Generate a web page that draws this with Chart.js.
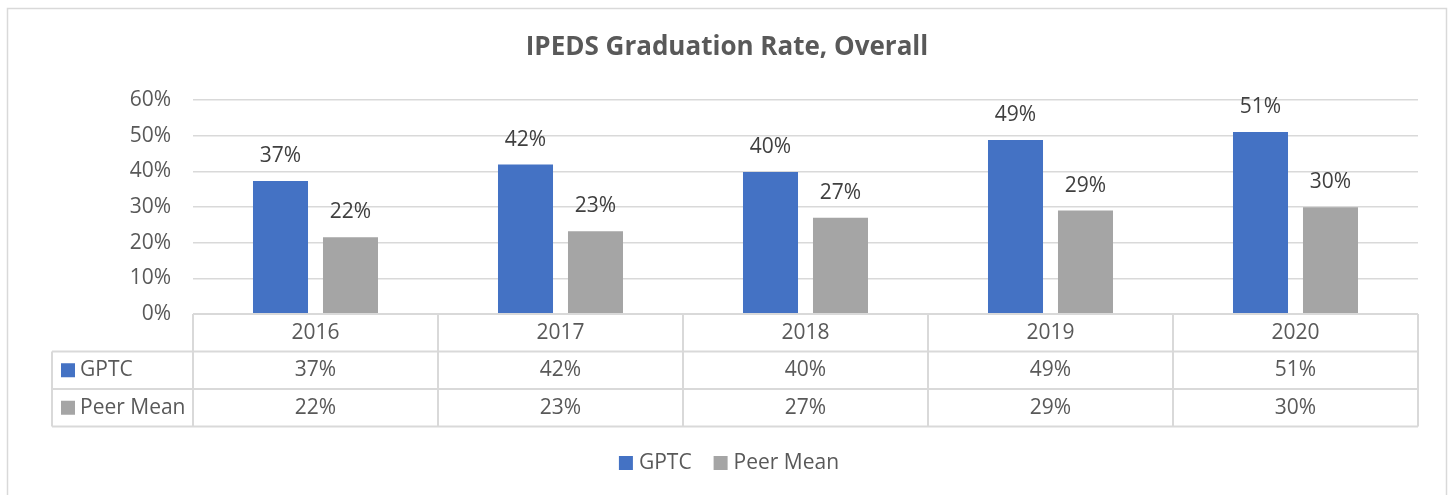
<!DOCTYPE html>
<html>
<head>
<meta charset="utf-8">
<script src="https://cdn.jsdelivr.net/npm/chart.js@4.4.1/dist/chart.umd.min.js"></script>
<style>
html,body{margin:0;padding:0;background:#fff;}
#wrap{width:1450px;height:495px;position:relative;}
</style>
</head>
<body>
<div id="wrap"><canvas id="c" width="1450" height="495"></canvas></div>
<script>
const categories = ['2016', '2017', '2018', '2019', '2020'];
const gptc = [37.3, 41.9, 39.8, 48.8, 51.0];
const peerMean = [21.5, 23.2, 27.0, 29.0, 29.9];
const seriesNames = ['GPTC', 'Peer Mean'];
const yTicks = [0, 10, 20, 30, 40, 50, 60];
const chartTitle = 'IPEDS Graduation Rate, Overall';

const FONT = '"Open Sans", "Noto Sans", sans-serif';
const TXT = '#595959';
const LINE = '#d9d9d9';
const colors = ['#4472C4', '#A5A5A5'];
const fmt = v => Math.round(v) + '%';
const FS = 21;

const excelPlugin = {
  id: 'excel',
  beforeDraw(chart) {
    const ctx = chart.ctx;
    ctx.save();
    ctx.fillStyle = '#fff';
    ctx.fillRect(0, 0, chart.width, chart.height);
    ctx.strokeStyle = LINE;
    ctx.lineWidth = 1.5;
    ctx.strokeRect(7.5, 8.5, 1439, 500);
    // title
    ctx.fillStyle = TXT;
    ctx.font = 'bold 26px ' + FONT;
    ctx.textAlign = 'center';
    ctx.textBaseline = 'middle';
    ctx.fillText(chartTitle, 727, 48);
    ctx.restore();
  },
  afterDatasetsDraw(chart) {
    const ctx = chart.ctx;
    const x = chart.scales.x;
    const area = chart.chartArea;
    ctx.save();
    // data labels
    ctx.font = FS + 'px ' + FONT;
    ctx.fillStyle = '#404040';
    ctx.textAlign = 'center';
    ctx.textBaseline = 'middle';
    chart.data.datasets.forEach((ds, di) => {
      chart.getDatasetMeta(di).data.forEach((bar, i) => {
        ctx.fillText(fmt(ds.data[i]), bar.x, bar.y - 25);
      });
    });
    // table
    const rowH = 37.5;
    const top = area.bottom;
    const left = 52;
    const n = categories.length;
    const colW = (area.right - area.left) / n;
    ctx.strokeStyle = LINE;
    ctx.lineWidth = 2;
    ctx.beginPath();
    ctx.moveTo(area.left, top); ctx.lineTo(area.right, top);
    ctx.moveTo(left, top + rowH); ctx.lineTo(area.right, top + rowH);
    ctx.moveTo(left, top + 2 * rowH); ctx.lineTo(area.right, top + 2 * rowH);
    ctx.moveTo(left, top + 3 * rowH); ctx.lineTo(area.right, top + 3 * rowH);
    ctx.moveTo(left, top + rowH); ctx.lineTo(left, top + 3 * rowH);
    for (let i = 0; i <= n; i++) {
      const xx = area.left + i * colW;
      ctx.moveTo(xx, top); ctx.lineTo(xx, top + 3 * rowH);
    }
    ctx.stroke();
    ctx.fillStyle = TXT;
    ctx.font = FS + 'px ' + FONT;
    categories.forEach((c, i) => {
      const cx = x.getPixelForValue(i);
      ctx.textAlign = 'center';
      ctx.fillText(c, cx, top + rowH / 2);
      chart.data.datasets.forEach((ds, di) => {
        ctx.fillText(fmt(ds.data[i]), cx, top + rowH * (di + 1.5));
      });
    });
    chart.data.datasets.forEach((ds, di) => {
      const cy = top + rowH * (di + 1.5);
      ctx.fillStyle = colors[di];
      ctx.fillRect(61, cy - 7, 14, 14);
      ctx.fillStyle = TXT;
      ctx.textAlign = 'left';
      ctx.fillText(ds.label, 80, cy);
    });
    // bottom legend
    const ly = 463;
    const box = 14, gapT = 6, gapItem = 22;
    const widths = chart.data.datasets.map(ds => box + gapT + ctx.measureText(ds.label).width);
    const total = widths.reduce((a, b) => a + b, 0) + gapItem * (widths.length - 1);
    let lx = 729 - total / 2;
    chart.data.datasets.forEach((ds, di) => {
      ctx.fillStyle = colors[di];
      ctx.fillRect(lx, ly - 7, box, box);
      ctx.fillStyle = TXT;
      ctx.textAlign = 'left';
      ctx.fillText(ds.label, lx + box + gapT, ly);
      lx += widths[di] + gapItem;
    });
    ctx.restore();
  }
};

new Chart(document.getElementById('c'), {
  type: 'bar',
  data: {
    labels: categories,
    datasets: [
      { label: seriesNames[0], data: gptc, backgroundColor: colors[0] },
      { label: seriesNames[1], data: peerMean, backgroundColor: colors[1] }
    ]
  },
  options: {
    responsive: false,
    animation: false,
    devicePixelRatio: 1,
    layout: { autoPadding: false, padding: { top: 100, left: 40, right: 32, bottom: 181 } },
    datasets: { bar: { categoryPercentage: 0.5714, barPercentage: 0.786 } },
    plugins: { legend: { display: false }, title: { display: false }, tooltip: { enabled: false } },
    scales: {
      x: { display: false },
      y: {
        min: 0, max: 60,
        afterFit(scale) { scale.width = 153; },
        afterBuildTicks(scale) { scale.ticks = yTicks.map(v => ({ value: v })); },
        border: { display: false },
        grid: { color: LINE, lineWidth: 1.5, drawTicks: false },
        ticks: {
          padding: 22,
          color: TXT,
          font: { family: FONT, size: FS },
          callback: v => v + '%'
        }
      }
    }
  },
  plugins: [excelPlugin]
});
</script>
</body>
</html>
